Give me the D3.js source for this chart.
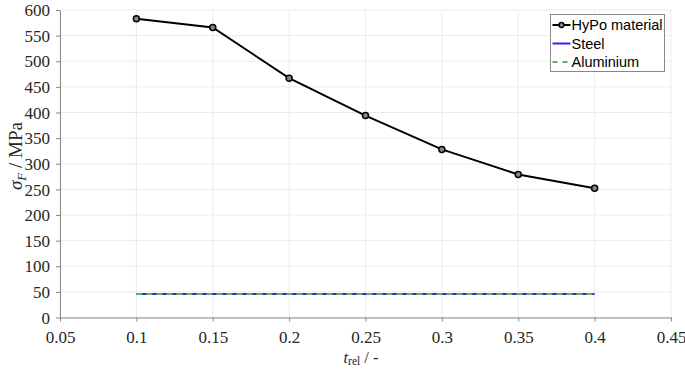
<!DOCTYPE html>
<html>
<head>
<meta charset="utf-8">
<script src="https://cdn.jsdelivr.net/npm/d3@7"></script>
<style>
  body { margin: 0; background: #fff; }
  svg { display: block; }
</style>
</head>
<body>
<main></main>
<script>
const tRel = [0.1, 0.15, 0.2, 0.25, 0.3, 0.35, 0.4]
const hypo = [583, 566, 467, 394, 328, 279, 252]
const steel = [46, 46]
const aluminium = [46, 46]
const steelX = [0.1, 0.4]
const xTicks = [0.05, 0.1, 0.15, 0.2, 0.25, 0.3, 0.35, 0.4, 0.45]
const yTicks = [0, 50, 100, 150, 200, 250, 300, 350, 400, 450, 500, 550, 600]

const size = {width: 685, height: 369}
const plot = {left: 60, right: 671, top: 10, bottom: 317.5}
const serif = '"Liberation Serif", "DejaVu Serif", serif'

const svg = d3.select('main')
    .append('svg')
    .attr('width', size.width)
    .attr('height', size.height)

const x = d3.scaleLinear().domain([0.05, 0.45]).range([plot.left, plot.right])
const y = d3.scaleLinear().domain([0, 600]).range([plot.bottom, plot.top])

// grid
svg.append('g')
    .selectAll('line')
    .data(xTicks)
    .enter().append('line')
    .attr('x1', d => x(d)).attr('x2', d => x(d))
    .attr('y1', plot.top).attr('y2', plot.bottom)
    .attr('stroke', '#ebebeb')
svg.append('g')
    .selectAll('line')
    .data(yTicks)
    .enter().append('line')
    .attr('x1', plot.left).attr('x2', plot.right)
    .attr('y1', d => y(d)).attr('y2', d => y(d))
    .attr('stroke', '#ebebeb')

// axes
const xAxis = svg.append('g')
    .attr('transform', `translate(0,${plot.bottom})`)
    .call(d3.axisBottom(x).tickValues(xTicks).tickFormat(d3.format('~g')).tickSize(4).tickSizeOuter(0))
const yAxis = svg.append('g')
    .attr('transform', `translate(${plot.left},0)`)
    .call(d3.axisLeft(y).tickValues(yTicks).tickSize(4).tickSizeOuter(0))

;[xAxis, yAxis].forEach(a => {
    a.selectAll('path, line').attr('stroke', '#8a8a8a')
    a.selectAll('text')
        .attr('fill', '#262626')
        .style('font-family', serif)
        .style('font-size', '17px')
})
xAxis.selectAll('text').attr('dy', '1.08em')
yAxis.selectAll('text').attr('x', -10).attr('dy', '0.33em')

// lines
const line = d3.line().x(d => x(d[0])).y(d => y(d[1]))

svg.append('path')
    .datum(steelX.map((d, i) => [d, steel[i]]))
    .attr('d', line)
    .attr('fill', 'none')
    .attr('stroke', '#2a2ae6')
    .attr('stroke-width', 2)

svg.append('path')
    .datum(steelX.map((d, i) => [d, aluminium[i]]))
    .attr('d', line)
    .attr('fill', 'none')
    .attr('stroke', '#5fae5f')
    .attr('stroke-width', 2)
    .attr('stroke-dasharray', '6,4')

svg.append('path')
    .datum(tRel.map((d, i) => [d, hypo[i]]))
    .attr('d', line)
    .attr('fill', 'none')
    .attr('stroke', '#000')
    .attr('stroke-width', 2)

svg.selectAll('circle.pt')
    .data(tRel)
    .enter().append('circle')
    .attr('class', 'pt')
    .attr('cx', d => x(d))
    .attr('cy', (d, i) => y(hypo[i]))
    .attr('r', 3)
    .attr('fill', '#888')
    .attr('stroke', '#000')
    .attr('stroke-width', 1.5)

// axis labels
const yl = svg.append('text')
    .attr('transform', 'translate(22,156) rotate(-90)')
    .attr('text-anchor', 'middle')
    .style('font-family', serif)
    .style('font-size', '19px')
    .attr('fill', '#262626')
yl.append('tspan').style('font-style', 'italic').text('σ')
yl.append('tspan').style('font-style', 'italic').style('font-size', '13px').attr('dy', 4).text('F')
yl.append('tspan').attr('dy', -4).text(' / MPa')

const xl = svg.append('text')
    .attr('x', 361).attr('y', 362.5)
    .attr('text-anchor', 'middle')
    .style('font-family', serif)
    .style('font-size', '16.5px')
    .attr('fill', '#262626')
xl.append('tspan').style('font-style', 'italic').text('t')
xl.append('tspan').style('font-size', '11.5px').attr('dy', 2.5).text('rel')
xl.append('tspan').attr('dy', -2.5).text(' / -')

// legend
const legend = svg.append('g').attr('transform', 'translate(550.5,14.5)')
legend.append('rect')
    .attr('width', 114).attr('height', 57)
    .attr('fill', '#fff')
    .attr('stroke', '#888')
    .attr('stroke-width', 1)

const legendItems = ['HyPo material', 'Steel', 'Aluminium']
const legendColors = ['#000', '#2a2ae6', '#5fae5f']
const legendDash = [null, null, '5,5']
legendItems.forEach((name, i) => {
    const ly = 10.5 + i * 18.5
    legend.append('line')
        .attr('x1', 2).attr('x2', 20)
        .attr('y1', ly).attr('y2', ly)
        .attr('stroke', legendColors[i])
        .attr('stroke-width', 2)
        .attr('stroke-dasharray', legendDash[i])
    if (i === 0) {
        legend.append('circle')
            .attr('cx', 11).attr('cy', ly).attr('r', 2.5)
            .attr('fill', '#888').attr('stroke', '#000').attr('stroke-width', 1.3)
    }
    legend.append('text')
        .attr('x', 21).attr('y', ly + 5)
        .style('font-family', '"Liberation Sans", Arial, sans-serif')
        .style('font-size', '14.5px')
        .attr('fill', '#000')
        .text(name)
})
</script>
</body>
</html>
